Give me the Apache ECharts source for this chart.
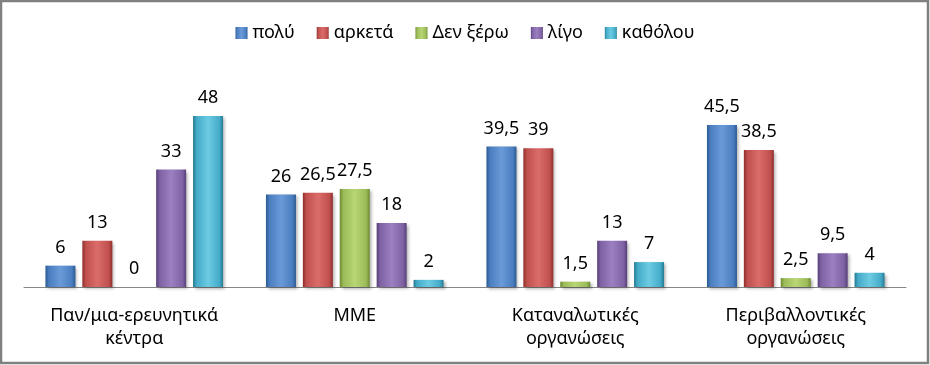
<!DOCTYPE html>
<html><head><meta charset="utf-8">
<script src="https://cdn.jsdelivr.net/npm/echarts@6/dist/echarts.min.js"></script>
<style>html,body{margin:0;padding:0;background:#fff}#c{width:930px;height:365px}</style>
</head><body><div id="c"></div>
<script>
const categories = ['Παν/μια-ερευνητικά\nκέντρα', 'ΜΜΕ', 'Καταναλωτικές\nοργανώσεις', 'Περιβαλλοντικές\nοργανώσεις'];
const seriesNames = ['πολύ', 'αρκετά', 'Δεν ξέρω', 'λίγο', 'καθόλου'];
const poly = [6, 26, 39.5, 45.5];
const arketa = [13, 26.5, 39, 38.5];
const denXero = [0, 27.5, 1.5, 2.5];
const ligo = [33, 18, 13, 9.5];
const katholou = [48, 2, 7, 4];
const values = [poly, arketa, denXero, ligo, katholou];
const palette = [
  ['#2c5a92', '#4a7ec0', '#6a9ad8'],
  ['#8f2f2d', '#c0504d', '#da6c69'],
  ['#6d8a30', '#9bbb59', '#b8d673'],
  ['#573f78', '#7f62a4', '#9b7fc0'],
  ['#247a92', '#45abc8', '#6ccbe3']
];
const FONT = '"Noto Sans", "DejaVu Sans", sans-serif';
function grad(p){
  return new echarts.graphic.LinearGradient(0,0,1,0,[
    {offset:0,color:p[0]},{offset:0.12,color:p[1]},{offset:0.5,color:p[2]},{offset:0.88,color:p[1]},{offset:1,color:p[0]}
  ]);
}
const chart = echarts.init(document.getElementById('c'), null, {renderer:'canvas'});
chart.setOption({
  animation:false,
  backgroundColor:'#fff',
  graphic:[{type:'rect',shape:{x:1,y:1,width:927,height:362},style:{fill:'none',stroke:'#808080',lineWidth:2.5},z:100}],
  legend:{
    top:19, left:'center', itemWidth:12, itemHeight:12, itemGap:22,
    icon:'rect',
    textStyle:{fontFamily:FONT,fontSize:18,color:'#000'},
    data:seriesNames
  },
  grid:{left:24,right:24,top:109,bottom:78,containLabel:false},
  xAxis:{
    type:'category', data:categories,
    axisLine:{lineStyle:{color:'#868686',width:1}},
    axisTick:{show:false},
    axisLabel:{fontFamily:FONT,fontSize:18,color:'#000',lineHeight:23,margin:17,interval:0}
  },
  yAxis:{type:'value',min:0,max:50,show:false,splitLine:{show:false}},
  series: seriesNames.map((n,i)=>({
    name:n, type:'bar', data:values[i], barWidth:30, barGap:'23%',
    itemStyle:{color:grad(palette[i]),borderWidth:0,
      shadowBlur:3,shadowOffsetX:2,shadowOffsetY:2,shadowColor:'rgba(0,0,0,0.3)'},
    label:{show:true,position:'top',distance:9,fontFamily:FONT,fontSize:18,color:'#000',
      formatter:p=>String(p.value).replace('.',',')}
  }))
});
</script></body></html>
